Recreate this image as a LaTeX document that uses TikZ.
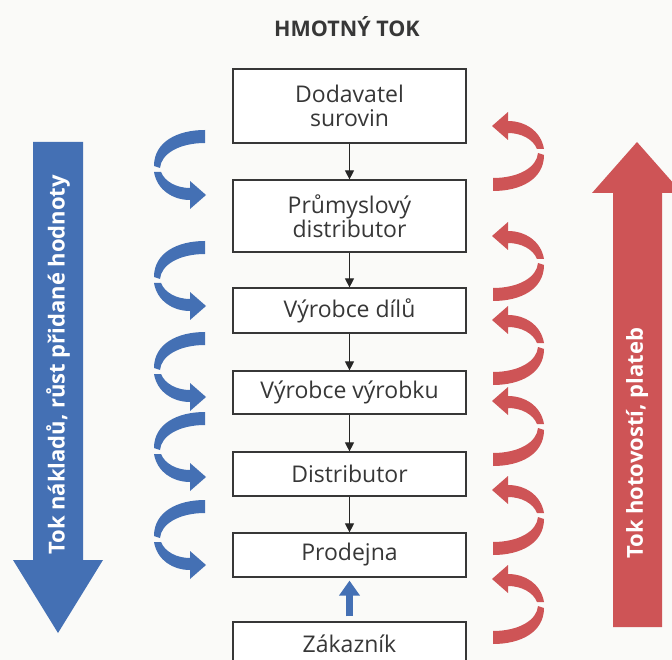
\documentclass[tikz,border=0pt]{standalone}
\usepackage{fontspec}
\setmainfont{Open Sans}
\usetikzlibrary{arrows.meta}

\definecolor{costblue}{RGB}{68,112,180}
\definecolor{cashred}{RGB}{206,84,86}
\definecolor{ink}{RGB}{55,55,55}
\definecolor{paper}{RGB}{250,250,248}

\tikzset{
  stage/.style={draw=ink, line width=1.2pt, fill=white, minimum width=233pt,
    text=ink, font=\fontsize{23}{24.5}\selectfont, align=center, inner sep=0pt},
  flow/.style={draw=black!85, line width=1.1pt, -{Triangle[length=9pt,width=9pt]}},
  bandlabel/.style={text=white, font=\bfseries\fontsize{22}{24}\selectfont,
    rotate=90, anchor=west, inner sep=0pt},
  % twisted ribbon arrow: tail at the origin (top right), head at lower right
  curl/.pic={
    \path[pic actions] (0,0) .. controls (-28,0) and (-51,12) .. (-51,36)
      -- (-45,38) .. controls (-44,24) and (-26,13) .. (0,13) -- cycle;
    \path[pic actions] (-51,42) .. controls (-48,60) and (-32,70) .. (-15,70)
      -- (-15,79) -- (1,65) -- (-15,51) -- (-15,58)
      .. controls (-28,58) and (-40,52) .. (-44,42) -- cycle;
  }
}

\begin{document}
\begin{tikzpicture}[x=1pt, y=-1pt]
  \useasboundingbox (0,0) rectangle (672,660);
  \clip (0,0) rectangle (672,660);
  \fill[paper] (0,0) rectangle (672,660);

  % title
  \node[font=\bfseries\fontsize{21.5}{24}\selectfont, text=ink] (title) at (347,27) {HMOTNÝ TOK};

  % supply chain stages
  \node[stage, minimum height=74pt] (b1) at (349.5,106) {Dodavatel\\surovin};
  \node[stage, minimum height=72pt] (b2) at (349.5,216) {Průmyslový\\distributor};
  \node[stage, minimum height=45pt] (b3) at (349.5,310.5) {Výrobce dílů};
  \node[stage, minimum height=43pt] (b4) at (349.5,392.5) {Výrobce výrobku};
  \node[stage, minimum height=44pt] (b5) at (349.5,474) {Distributor};
  \node[stage, minimum height=44pt] (b6) at (349.5,555) {Prodejna};
  \node[stage, minimum height=43pt] (b7) at (349.5,643.5) {Zákazník};

  % material flow
  \draw[flow] (b1) -- (b2);
  \draw[flow] (b2) -- (b3);
  \draw[flow] (b3) -- (b4);
  \draw[flow] (b4) -- (b5);
  \draw[flow] (b5) -- (b6);
  \draw[costblue, line width=7pt, shorten <=5pt, shorten >=3pt,
        -{Triangle[length=15pt,width=20pt]}] (b7) -- (b6);

  % cost flow (down) and cash flow (up)
  \fill[costblue] (33,142) -- (83,142) -- (83,560) -- (103,560) -- (58,633)
    -- (13,560) -- (33,560) -- cycle;
  \node[bandlabel] (costlabel) at (58,555) {Tok nákladů, růst přidané hodnoty};
  \fill[cashred] (613,627) -- (662,627) -- (662,193) -- (682,193) -- (637,142)
    -- (592,193) -- (613,193) -- cycle;
  \node[bandlabel] (cashlabel) at (637,559) {Tok hotovostí, plateb};

  % value added between stages
  \foreach \t in {130,241,332,412,500}
    \pic[fill=costblue] at (205,\t) {curl};
  % payments between stages
  \foreach \b in {191,301,385,466,555,644}
    \pic[fill=cashred, rotate=180] at (493,\b) {curl};
\end{tikzpicture}
\end{document}
